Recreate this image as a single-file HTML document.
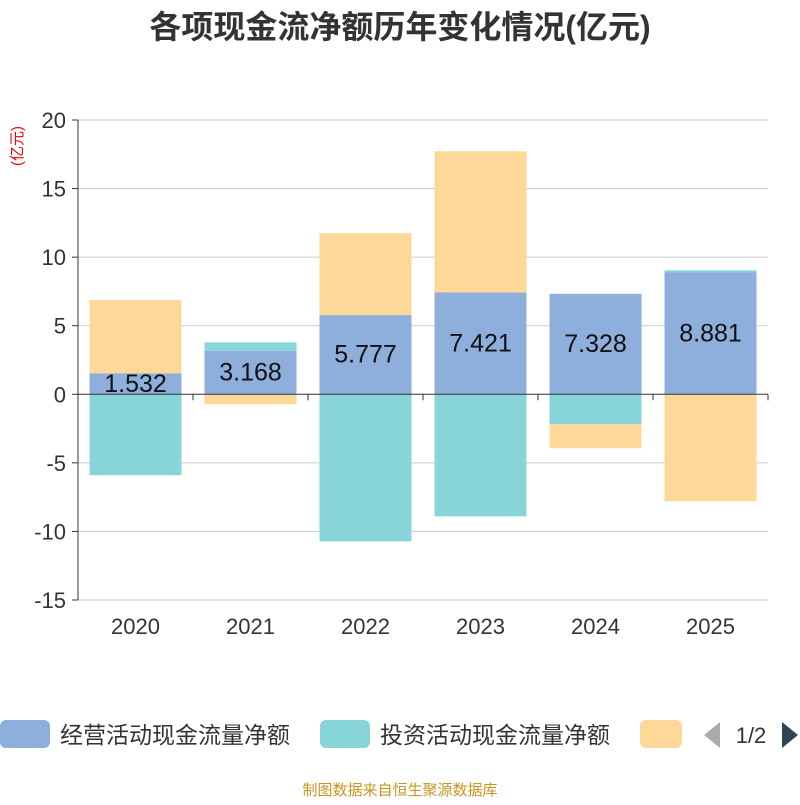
<!DOCTYPE html>
<html><head><meta charset="utf-8">
<style>
body{margin:0;background:#fff;font-family:"Liberation Sans","Noto Sans CJK SC",sans-serif;}
svg text{font-family:"Liberation Sans","Noto Sans CJK SC",sans-serif;}
</style></head>
<body>
<svg width="800" height="800" viewBox="0 0 800 800">
<text x="400" y="38" text-anchor="middle" font-size="32" font-weight="bold" fill="#333">各项现金流净额历年变化情况(亿元)</text>
<text transform="translate(22,146) rotate(-90)" text-anchor="middle" font-size="15" fill="#e00">(亿元)</text>
<g id="grid"></g>
<g id="bars"></g>
<g id="labels"></g>
<g id="axis"></g>
<g>
<rect x="0" y="720" width="50" height="28" rx="6" fill="#8eaedb"/>
<text x="60" y="743" font-size="23" fill="#333">经营活动现金流量净额</text>
<rect x="320" y="720" width="50" height="28" rx="6" fill="#87d5d9"/>
<text x="380" y="743" font-size="23" fill="#333">投资活动现金流量净额</text>
<rect x="640" y="720" width="42" height="28" rx="6" fill="#fdd898"/>
<polygon points="720,722 720,748 704,735" fill="#aaa"/>
<text x="751" y="743" text-anchor="middle" font-size="22" fill="#333">1/2</text>
<polygon points="782,722 782,748 798,735" fill="#2f4554"/>
</g>
<text x="400" y="795" text-anchor="middle" font-size="15" fill="#c8961e">制图数据来自恒生聚源数据库</text>
</svg>
<script>
const categories=["2020","2021","2022","2023","2024","2025"];
const operating=[1.532,3.168,5.777,7.421,7.328,8.881];
const investing=[-5.9,0.62,-10.72,-8.9,-2.19,0.16];
const financing=[5.33,-0.73,5.97,10.3,-1.75,-7.8];
const yTicks=[20,15,10,5,0,-5,-10,-15];
const series=[{d:operating,c:"#8eaedb",n:"operating"},{d:investing,c:"#87d5d9",n:"investing"},{d:financing,c:"#fdd898",n:"financing"}];
const NS="http://www.w3.org/2000/svg";
const x0=78,x1=768,yTop=120,yBot=600,yMax=20,yMin=-15;
const y=v=>yTop+(yMax-v)/(yMax-yMin)*(yBot-yTop);
const bw=(x1-x0)/categories.length;
const xc=i=>x0+bw*(i+0.5);
function mk(tag,attrs,parent){const e=document.createElementNS(NS,tag);for(const k in attrs)e.setAttribute(k,attrs[k]);document.getElementById(parent).appendChild(e);return e;}
yTicks.forEach(t=>{
 const l=mk("line",{x1:x0,x2:x1,y1:y(t),y2:y(t),stroke:t===0?"none":"#ccc","stroke-width":1},"grid");
 
 
 const k=mk("line",{x1:x0-6,x2:x0,y1:y(t),y2:y(t),stroke:"#333"},"axis");
 
 
 const tx=mk("text",{x:x0-12,y:y(t)+8,"text-anchor":"end","font-size":22,fill:"#333"},"axis");
 tx.textContent=t;
 
 
});
const ya=mk("line",{x1:x0,x2:x0,y1:yTop,y2:yBot,stroke:"#333"},"axis");


const xa=mk("line",{x1:x0,x2:x1,y1:y(0),y2:y(0),stroke:"#333"},"axis");


for(let i=0;i<=categories.length;i++){
 const k=mk("line",{x1:x0+bw*i,x2:x0+bw*i,y1:y(0),y2:y(0)+6,stroke:"#333"},"axis");
 
 
}
categories.forEach((c,i)=>{
 const tx=mk("text",{x:xc(i),y:634,"text-anchor":"middle","font-size":22,fill:"#333"},"axis");
 tx.textContent=c;
 
 
 let pos=0,neg=0;
 series.forEach(s=>{
  const v=s.d[i];let a,b;
  if(v>=0){a=pos;b=pos+v;pos=b;}else{a=neg;b=neg+v;neg=b;}
  const r=mk("rect",{x:xc(i)-46,width:92,y:Math.min(y(a),y(b)),height:Math.abs(y(a)-y(b)),fill:s.c},"bars");
  
  
 });
 const v=operating[i];
 const lb=mk("text",{x:xc(i),y:(y(0)+y(v))/2+8,"text-anchor":"middle","font-size":25,fill:"#111"},"labels");
 lb.textContent=v.toFixed(3);
 
 
});
</script>
</body></html>
